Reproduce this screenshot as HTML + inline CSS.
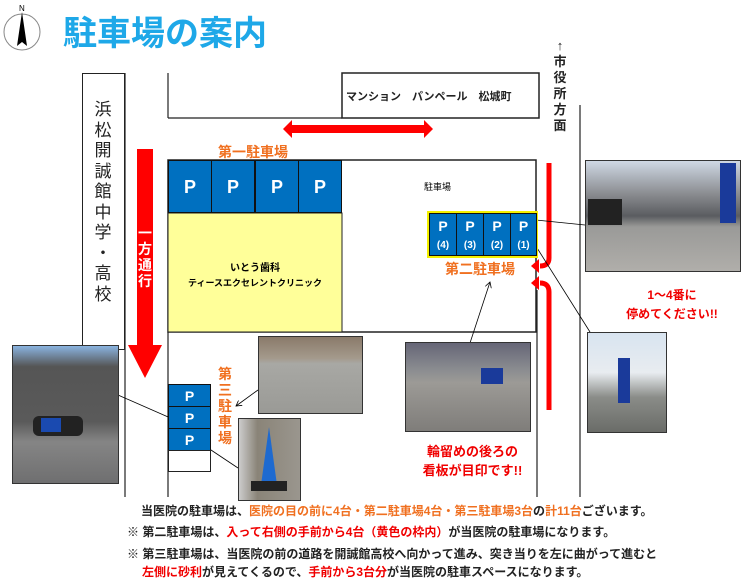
<!DOCTYPE html>
<html><head><meta charset="utf-8"><style>
body{margin:0;width:745px;height:581px;background:#fff;position:relative;overflow:hidden;font-family:"Liberation Sans","Noto Sans CJK JP",sans-serif}
.a{position:absolute}
.p{position:absolute;background:#0070c0;border:1px solid #111;box-sizing:border-box;color:#fff;font-weight:bold;text-align:center}
.or{color:#f07020;font-weight:bold}
.rd{color:#f00000;font-weight:bold}
.ph{position:absolute;border:1px solid #333;box-sizing:border-box;overflow:hidden}
.bt{position:absolute;font-size:12px;font-weight:bold;color:#222;white-space:nowrap}
</style></head><body>
<svg class="a" style="left:0;top:0" width="745" height="581">
<defs><marker id="ar" markerWidth="8" markerHeight="8" refX="7" refY="4" orient="auto"><path d="M0,0 L7,4 L0,8" fill="none" stroke="#000" stroke-width="1"/></marker></defs>
<ellipse cx="22" cy="32" rx="18" ry="18" fill="none" stroke="#888"/>
<path d="M22,12 L27,46 L22,42 L17,46 Z" fill="#000"/>
<text x="19" y="11" font-size="8" font-family="Liberation Sans">N</text>
<g stroke="#222" stroke-width="1.2" fill="none">
<line x1="125" y1="73" x2="125" y2="497"/>
<line x1="168" y1="73" x2="168" y2="118"/>
<line x1="168" y1="118" x2="342" y2="118"/>
<line x1="168" y1="332" x2="168" y2="497"/>
<line x1="537" y1="290" x2="537" y2="497"/>
<line x1="580" y1="105" x2="580" y2="497"/>
</g>
<rect x="342" y="73" width="197" height="45" fill="#fff" stroke="#222" stroke-width="1.5"/>
<rect x="168" y="160" width="368" height="172" fill="#fff" stroke="#222" stroke-width="1.5"/>
<rect x="168" y="213" width="174" height="119" fill="#ffff99" stroke="#222" stroke-width="1"/>
<path d="M283,129 L292,120 L292,125 L424,125 L424,120 L433,129 L424,138 L424,133 L292,133 L292,138 Z" fill="#f00"/>
<rect x="137" y="149" width="16" height="196" fill="#f00"/>
<path d="M128,345 L162,345 L145,378 Z" fill="#f00"/>
<path d="M549,163 L549,258 Q549,266 540,266" stroke="#f00" stroke-width="5" fill="none"/>
<path d="M531,266 L539,259 L539,273 Z" fill="#f00"/>
<path d="M549,410 L549,292 Q549,283 540,283" stroke="#f00" stroke-width="5" fill="none"/>
<path d="M531,283 L539,276 L539,290 Z" fill="#f00"/>
<g stroke="#000" stroke-width="0.8" fill="none" marker-end="url(#ar)">
<line x1="585" y1="225" x2="526" y2="219"/>
<line x1="590" y1="332" x2="527" y2="232"/>
<line x1="470" y1="343" x2="490" y2="282"/>
<line x1="118" y1="395" x2="175" y2="420"/>
<line x1="258" y1="390" x2="236" y2="406"/>
<line x1="238" y1="468" x2="205" y2="446"/>
</g>
</svg>
<div class="a" style="left:63px;top:6px;font-size:34px;font-weight:bold;color:#1ea8e8">駐車場の案内</div>
<div class="a" style="left:82px;top:73px;width:43px;height:277px;border:1.5px solid #222;box-sizing:border-box;background:#fff"></div>
<div class="a" style="left:93px;top:100px;width:20px;font-size:17px;line-height:20.5px;color:#222;text-align:center">浜<br>松<br>開<br>誠<br>館<br>中<br>学<br>・<br>高<br>校</div>
<div class="a" style="left:137px;top:225px;width:16px;font-size:14px;line-height:16px;color:#fff;font-weight:bold;text-align:center">一<br>方<br>通<br>行</div>
<div class="a" style="left:552px;top:38px;width:16px;font-size:13px;line-height:16px;font-weight:bold;color:#222;text-align:center">↑<br>市<br>役<br>所<br>方<br>面</div>
<div class="a" style="left:346px;top:88px;font-size:11px;font-weight:bold;color:#222;white-space:nowrap">マンション　パンペール　松城町</div>
<div class="a or" style="left:218px;top:142px;font-size:14px">第一駐車場</div>
<div class="p" style="left:168px;top:160px;width:44px;height:53px;font-size:18px;line-height:53px">P</div>
<div class="p" style="left:211px;top:160px;width:44px;height:53px;font-size:18px;line-height:53px">P</div>
<div class="p" style="left:255px;top:160px;width:44px;height:53px;font-size:18px;line-height:53px">P</div>
<div class="p" style="left:298px;top:160px;width:44px;height:53px;font-size:18px;line-height:53px">P</div>
<div class="a" style="left:424px;top:180px;font-size:9px">駐車場</div>
<div class="a" style="left:170px;top:262px;width:170px;text-align:center;font-size:10px;font-weight:bold;line-height:14px;white-space:nowrap">いとう歯科<br><span style="font-size:9px">ティースエクセレントクリニック</span></div>
<div class="a" style="left:427px;top:211px;width:111px;height:47px;border:2px solid #f4f000;box-sizing:border-box"></div>
<div class="p" style="left:429px;top:213px;width:28px;height:43px;font-size:14px;line-height:17px;padding-top:4px">P<br><span style="font-size:10px">(4)</span></div>
<div class="p" style="left:456px;top:213px;width:28px;height:43px;font-size:14px;line-height:17px;padding-top:4px">P<br><span style="font-size:10px">(3)</span></div>
<div class="p" style="left:483px;top:213px;width:28px;height:43px;font-size:14px;line-height:17px;padding-top:4px">P<br><span style="font-size:10px">(2)</span></div>
<div class="p" style="left:510px;top:213px;width:27px;height:43px;font-size:14px;line-height:17px;padding-top:4px">P<br><span style="font-size:10px">(1)</span></div>
<div class="a or" style="left:445px;top:259px;font-size:14px">第二駐車場</div>
<div class="a rd" style="left:612px;top:286px;width:120px;text-align:center;font-size:12px;line-height:19px">1〜4番に<br>停めてください!!</div>
<div class="a rd" style="left:410px;top:442px;width:125px;text-align:center;font-size:13px;line-height:19px">輪留めの後ろの<br>看板が目印です!!</div>
<div class="p" style="left:168px;top:384px;width:43px;height:23px;font-size:14px;line-height:22px">P</div>
<div class="p" style="left:168px;top:406px;width:43px;height:23px;font-size:14px;line-height:22px">P</div>
<div class="p" style="left:168px;top:428px;width:43px;height:23px;font-size:14px;line-height:22px">P</div>
<div class="a" style="left:168px;top:450px;width:43px;height:22px;border:1.5px solid #222;box-sizing:border-box;background:#fff"></div>
<div class="a or" style="left:218px;top:366px;width:16px;font-size:14px;line-height:16px">第<br>三<br>駐<br>車<br>場</div>
<div class="ph" style="left:585px;top:160px;width:156px;height:112px;background:linear-gradient(#cfd8e4 0%,#8a8c90 30%,#5a5c60 50%,#9a9a98 60%,#b0aeaa 100%)"><div class="a" style="left:134px;top:2px;width:16px;height:60px;background:#1a3a9a"></div><div class="a" style="left:2px;top:38px;width:34px;height:26px;background:#222"></div></div>
<div class="ph" style="left:587px;top:332px;width:80px;height:101px;background:linear-gradient(#d8e4f0 0%,#e8ecf0 40%,#8a8c88 65%,#6a6c68 100%)"><div class="a" style="left:30px;top:25px;width:12px;height:45px;background:#1a3a9a"></div></div>
<div class="ph" style="left:405px;top:342px;width:126px;height:90px;background:linear-gradient(#667 0%,#8a8c90 30%,#9c9a96 45%,#7f7d7a 100%)"><div class="a" style="left:75px;top:25px;width:22px;height:16px;background:#1a3a9a"></div></div>
<div class="ph" style="left:258px;top:336px;width:105px;height:78px;background:linear-gradient(#8a7a6a 0%,#a49a8c 28%,#a8a8a4 35%,#9a9a96 100%)"></div>
<div class="ph" style="left:238px;top:418px;width:63px;height:83px;background:linear-gradient(90deg,#ccc 0%,#8a8478 30%,#9a968e 100%)"><div class="a" style="left:22px;top:8px;width:0;height:0;border-left:8px solid transparent;border-right:8px solid transparent;border-bottom:58px solid #1e6ad0"></div><div class="a" style="left:12px;top:62px;width:36px;height:10px;background:#222"></div></div>
<div class="ph" style="left:12px;top:345px;width:107px;height:139px;background:linear-gradient(#8ab4e0 0%,#555 15%,#5a5a5a 55%,#858585 70%,#6f6f70 100%)"><div class="a" style="left:20px;top:70px;width:50px;height:20px;background:#222;border-radius:6px"></div><div class="a" style="left:28px;top:72px;width:20px;height:14px;background:#1a4ab0"></div></div>
<div class="bt" style="left:141px;top:502px">当医院の駐車場は、<span class="or">医院の目の前に4台・第二駐車場4台・第三駐車場3台</span>の<span class="or">計11台</span>ございます。</div>
<div class="bt" style="left:127px;top:523px">※ 第二駐車場は、<span class="rd">入って右側の手前から4台（黄色の枠内）</span>が当医院の駐車場になります。</div>
<div class="bt" style="left:127px;top:545px">※ 第三駐車場は、当医院の前の道路を開誠館高校へ向かって進み、突き当りを左に曲がって進むと</div>
<div class="bt" style="left:142px;top:563px"><span class="rd">左側に砂利</span>が見えてくるので、<span class="rd">手前から3台分</span>が当医院の駐車スペースになります。</div>
</body></html>
